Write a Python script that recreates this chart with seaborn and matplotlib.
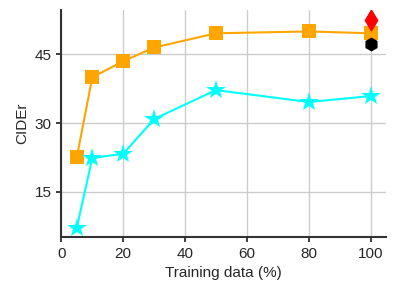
import matplotlib
matplotlib.use("Agg")
import matplotlib.pyplot as plt
import seaborn as sns
import pandas as pd

x_pct = [5, 10, 20, 30, 50, 80, 100]
orange_vals = [22.6, 40.0, 43.5, 46.5, 49.6, 50.0, 49.6]
cyan_vals = [7.2, 22.4, 23.3, 30.9, 37.2, 34.6, 35.9]
red_point = (100, 52.6)
black_point = (100, 47.2)

sns.set_theme(style="whitegrid")
sns.set_style("whitegrid", {"axes.edgecolor": "0.2", "xtick.bottom": True, "ytick.left": True,
                            "xtick.color": "0.2", "ytick.color": "0.2"})
plt.rcParams["font.family"] = ["Liberation Sans", "DejaVu Sans"]
plt.rcParams["xtick.major.size"] = 3.5
plt.rcParams["ytick.major.size"] = 3.5
plt.rcParams["axes.linewidth"] = 1.5

fig, ax = plt.subplots(figsize=(3.96, 2.96), dpi=100)
df_o = pd.DataFrame({"x": x_pct, "y": orange_vals})
df_c = pd.DataFrame({"x": x_pct, "y": cyan_vals})
sns.lineplot(data=df_o, x="x", y="y", ax=ax, color="orange", marker="s", markersize=10,
             markeredgewidth=0, linewidth=1.5)
sns.lineplot(data=df_c, x="x", y="y", ax=ax, color="cyan", marker="*", markersize=15,
             markeredgewidth=0, linewidth=1.5)
ax.scatter([black_point[0]], [black_point[1]], marker="h", color="black", s=80, zorder=5)
ax.scatter([red_point[0]], [red_point[1]], marker="d", color="red", s=110, zorder=5)

ax.set_xlim(0, 105)
ax.set_ylim(5.2, 54.6)
ax.set_yticks([15, 30, 45])
ax.set_xticks([0, 20, 40, 60, 80, 100])
ax.tick_params(labelsize=11, colors="0.15")
ax.set_xlabel("Training data (%)", fontsize=11, color="0.15")
ax.set_ylabel("CIDEr", fontsize=11, color="0.15")
sns.despine(ax=ax)
fig.subplots_adjust(left=0.155, right=0.975, bottom=0.2, top=0.965)
fig.savefig("out.png", dpi=100)
